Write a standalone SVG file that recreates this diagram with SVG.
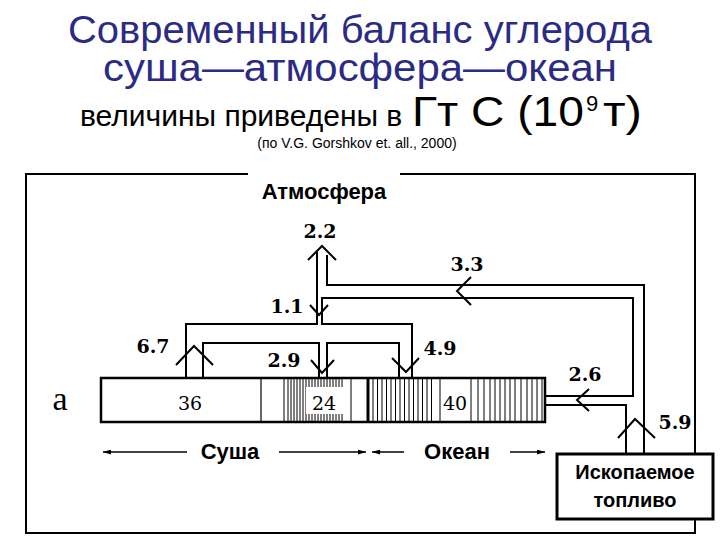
<svg xmlns="http://www.w3.org/2000/svg" width="720" height="540" viewBox="0 0 720 540">
<defs>
<style>
.title{font-family:"Liberation Sans",Arial,sans-serif;fill:#2b2b85}
.sub{font-family:"Liberation Sans",Arial,sans-serif;fill:#000}
.lbl{font-family:"Liberation Sans",Arial,sans-serif;font-weight:bold;fill:#000}
.num{font-family:"DejaVu Serif",serif;font-weight:bold;font-size:19px;fill:#000;text-anchor:middle}
.val{font-family:"DejaVu Serif",serif;font-size:19px;fill:#000;text-anchor:middle}
.pipe{fill:none;stroke:#000;stroke-width:2}
.arr{fill:none;stroke:#000;stroke-width:2}
.hatch{stroke:#000;stroke-width:1}
.dim{stroke:#000;stroke-width:1.5;fill:none}
</style>
<marker id="ah" viewBox="0 0 10 6" refX="10" refY="3" markerWidth="8" markerHeight="5" markerUnits="userSpaceOnUse" orient="auto-start-reverse">
<path d="M0,0 L10,3 L0,6 Z" fill="#000"/>
</marker>
</defs>
<rect width="720" height="540" fill="#fff"/>

<g id="title">
<text class="title" x="68" y="43" font-size="38" textLength="584" lengthAdjust="spacingAndGlyphs">Современный баланс углерода</text>
<text class="title" x="103" y="81" font-size="38" textLength="514" lengthAdjust="spacingAndGlyphs">суша—атмосфера—океан</text>
<text class="sub" x="80" y="126" font-size="30">величины приведены в</text>
<text class="sub" x="412" y="126" font-size="42" textLength="172" lengthAdjust="spacingAndGlyphs">Гт С (10</text>
<text class="sub" x="586" y="111" font-size="22">9</text>
<text class="sub" x="603" y="126" font-size="42" textLength="39" lengthAdjust="spacingAndGlyphs">т)</text>
<text class="sub" x="357" y="148" font-size="14" text-anchor="middle" fill="#333">(по V.G. Gorshkov et. all., 2000)</text>
</g>

<g id="frame">
<path d="M248,174 H26 V533 H695 V174 H400" fill="none" stroke="#000" stroke-width="2"/>
</g>

<g id="atmosphere">
<text class="lbl" x="324" y="199" font-size="22" text-anchor="middle">Атмосфера</text>
</g>

<g id="bar">
<rect x="101" y="378" width="444" height="44" fill="#fff" stroke="#000" stroke-width="2.5"/>
<line x1="261" y1="378" x2="261" y2="422" stroke="#000" stroke-width="1.2"/>
<g class="hatch">
<path d="M284,378V422M288,378V422M291,378V422M294,378V422M297,378V422M300,378V422M303,378V422M306,378V422M309,378V422M312,378V422M315,378V422M318,378V422M321,378V422M324,378V422M327,378V422M330,378V422M333,378V422M336,378V422M339,378V422M342,378V422M351,378V422"/>
<path d="M373,378V422M377.5,378V422M382,378V422M386.5,378V422M391,378V422M395.5,378V422M400,378V422M404.5,378V422M409,378V422M413.5,378V422M418,378V422M422.5,378V422M427,378V422M431.5,378V422M440,378V422M471,378V422M478,378V422M484,378V422M490,378V422M495,378V422M500,378V422M505,378V422M510,378V422M515,378V422M521,378V422M527,378V422M532,378V422M537,378V422M542,378V422"/>
</g>
<rect x="306" y="387" width="37" height="27" fill="#fff"/>
<rect x="441" y="387" width="29" height="27" fill="#fff"/>
<line x1="368" y1="378" x2="368" y2="422" stroke="#000" stroke-width="3"/>
<text class="val" x="190" y="410">36</text>
<text class="val" x="324" y="410">24</text>
<text class="val" x="455" y="410">40</text>
<text x="60" y="410" font-family="Liberation Serif,serif" font-size="34" text-anchor="middle">а</text>
</g>

<g id="fossil">
<rect x="557" y="454" width="156" height="65" fill="#fff" stroke="#000" stroke-width="3"/>
<text class="lbl" x="635" y="479" font-size="20" text-anchor="middle">Ископаемое</text>
<text class="lbl" x="635" y="507" font-size="20" text-anchor="middle">топливо</text>
</g>

<g id="connectors">
<path class="pipe" d="M186,378 V324 H317 V252"/>
<path class="pipe" d="M203,378 V343 H319 V378"/>
<path class="pipe" d="M327,378 V343 H399 V378"/>
<path class="pipe" d="M412,378 V324 H322 V298 H633 V396 H546"/>
<path class="pipe" d="M327,255 V285 H644 V454"/>
<path class="pipe" d="M546,405 H626 V454"/>
<path class="arr" d="M308,260 L322,246 L336,260"/>
<path class="arr" d="M471,277 L457,291 L471,305"/>
<path class="arr" d="M310,305 L319,315 L328,305"/>
<path class="arr" d="M176,365 L194,346 L213,365"/>
<path class="arr" d="M311,360 L322,373 L334,360"/>
<path class="arr" d="M392,358 L406,372 L419,358"/>
<path class="arr" d="M589,389 L577,400 L589,411"/>
<path class="arr" d="M618,438 L635,419 L655,438"/>
<path class="dim" d="M187,452 H103" marker-end="url(#ah)"/>
<path class="dim" d="M279,452 H366" marker-end="url(#ah)"/>
<path class="dim" d="M404,452 H372" marker-end="url(#ah)"/>
<path class="dim" d="M510,452 H545" marker-end="url(#ah)"/>
</g>

<g id="labels">
<text class="num" x="320" y="238">2.2</text>
<text class="num" x="467" y="271">3.3</text>
<text class="num" x="287" y="313">1.1</text>
<text class="num" x="153" y="353">6.7</text>
<text class="num" x="284" y="367">2.9</text>
<text class="num" x="440" y="355">4.9</text>
<text class="num" x="585" y="381">2.6</text>
<text class="num" x="675" y="429">5.9</text>
<text class="lbl" x="230" y="459" font-size="22" text-anchor="middle">Суша</text>
<text class="lbl" x="457" y="459" font-size="22" text-anchor="middle">Океан</text>
</g>
</svg>
